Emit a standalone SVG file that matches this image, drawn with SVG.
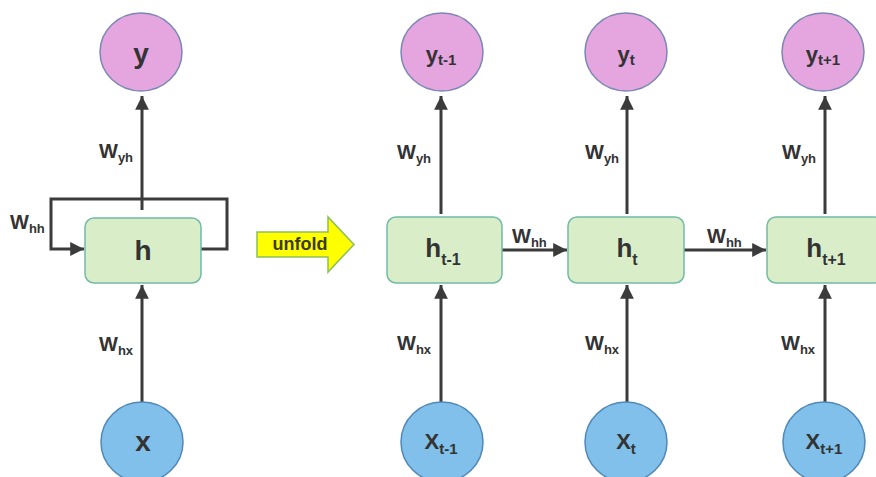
<svg xmlns="http://www.w3.org/2000/svg" width="876" height="477" viewBox="0 0 876 477">
<style>
.out{fill:#e5a5df;stroke:#7b88b6;stroke-width:1.5}
.in{fill:#80c0ea;stroke:#5088b8;stroke-width:1.5}
.box{fill:#d9eec8;stroke:#72bba6;stroke-width:1.5}
.ln{fill:none;stroke:#3b3b3b;stroke-width:3}
text{font-family:"Liberation Sans",Arial,sans-serif;font-weight:bold;fill:#333}
.w{font-size:20px}
.ws{font-size:13px}
.big{font-size:28px}
.m{font-size:22px}
.ms{font-size:15px}
.hm{font-size:26px}
.hs{font-size:16px}
</style>
<defs>
<marker id="ah" viewBox="0 0 10 10" refX="10" refY="5" markerWidth="5" markerHeight="4.6" orient="auto" markerUnits="strokeWidth">
<path d="M0,0 L10,5 L0,10 z" fill="#3b3b3b"/>
</marker>
</defs>
<rect width="876" height="477" fill="#ffffff"/>
<g id="connectors">
<line class="ln" x1="142" y1="210" x2="142" y2="96" marker-end="url(#ah)"/>
<line class="ln" x1="142" y1="402" x2="142" y2="285" marker-end="url(#ah)"/>
<polyline class="ln" points="201,249 227,249 227,199 51,199 51,249 84,249" marker-end="url(#ah)"/>
<line class="ln" x1="441" y1="214" x2="441" y2="96" marker-end="url(#ah)"/>
<line class="ln" x1="441" y1="402" x2="441" y2="285" marker-end="url(#ah)"/>
<line class="ln" x1="627" y1="214" x2="627" y2="96" marker-end="url(#ah)"/>
<line class="ln" x1="627" y1="402" x2="627" y2="285" marker-end="url(#ah)"/>
<line class="ln" x1="825" y1="214" x2="825" y2="96" marker-end="url(#ah)"/>
<line class="ln" x1="825" y1="402" x2="825" y2="285" marker-end="url(#ah)"/>
<line class="ln" x1="502" y1="250" x2="567" y2="250" marker-end="url(#ah)"/>
<line class="ln" x1="684" y1="250" x2="766" y2="250" marker-end="url(#ah)"/>
<text x="99" y="158"><tspan class="w">W</tspan><tspan class="ws" dy="4">yh</tspan></text>
<text x="10" y="229"><tspan class="w">W</tspan><tspan class="ws" dy="4">hh</tspan></text>
<text x="99" y="351"><tspan class="w">W</tspan><tspan class="ws" dy="4">hx</tspan></text>
<text x="397" y="159"><tspan class="w">W</tspan><tspan class="ws" dy="4">yh</tspan></text>
<text x="585" y="159"><tspan class="w">W</tspan><tspan class="ws" dy="4">yh</tspan></text>
<text x="782" y="159"><tspan class="w">W</tspan><tspan class="ws" dy="4">yh</tspan></text>
<text x="397" y="350"><tspan class="w">W</tspan><tspan class="ws" dy="4">hx</tspan></text>
<text x="585" y="350"><tspan class="w">W</tspan><tspan class="ws" dy="4">hx</tspan></text>
<text x="781" y="350"><tspan class="w">W</tspan><tspan class="ws" dy="4">hx</tspan></text>
<text x="512" y="243"><tspan class="w">W</tspan><tspan class="ws" dy="4">hh</tspan></text>
<text x="707" y="243"><tspan class="w">W</tspan><tspan class="ws" dy="4">hh</tspan></text>
</g>
<g id="unfold">
<polygon points="257,232 328,232 328,217 354,244.5 328,272 328,257 257,257" fill="#ffff00" stroke="#8dbf5c" stroke-width="1.5"/>
<text x="300" y="250" text-anchor="middle" font-size="18" style="fill:#3b3b1f">unfold</text>
</g>
<g id="node-y">
<ellipse class="out" cx="141" cy="52" rx="41" ry="39"/>
<text class="big" x="141" y="63" text-anchor="middle">y</text>
</g>
<g id="node-h">
<rect class="box" x="85" y="218" width="116" height="65" rx="9"/>
<text class="big" x="143" y="260" text-anchor="middle">h</text>
</g>
<g id="node-x">
<ellipse class="in" cx="142" cy="442" rx="41" ry="40"/>
<text class="big" x="143" y="451" text-anchor="middle">x</text>
</g>
<g id="node-y-t-1">
<ellipse class="out" cx="442" cy="52" rx="41" ry="39"/>
<text x="441" y="62" text-anchor="middle"><tspan class="m">y</tspan><tspan class="ms" dy="3">t-1</tspan></text>
</g>
<g id="node-y-t">
<ellipse class="out" cx="626" cy="52" rx="41" ry="39"/>
<text x="626" y="62" text-anchor="middle"><tspan class="m">y</tspan><tspan class="ms" dy="3">t</tspan></text>
</g>
<g id="node-y-t1">
<ellipse class="out" cx="823" cy="52" rx="41" ry="39"/>
<text x="823" y="62" text-anchor="middle"><tspan class="m">y</tspan><tspan class="ms" dy="3">t+1</tspan></text>
</g>
<g id="node-h-t-1">
<rect class="box" x="387" y="217" width="115" height="66" rx="9"/>
<text x="443" y="257" text-anchor="middle"><tspan class="hm">h</tspan><tspan class="hs" dy="8">t-1</tspan></text>
</g>
<g id="node-h-t">
<rect class="box" x="568" y="217" width="116" height="66" rx="9"/>
<text x="627" y="257" text-anchor="middle"><tspan class="hm">h</tspan><tspan class="hs" dy="8">t</tspan></text>
</g>
<g id="node-h-t1">
<rect class="box" x="767" y="217" width="116" height="66" rx="9"/>
<text x="826" y="257" text-anchor="middle"><tspan class="hm">h</tspan><tspan class="hs" dy="8">t+1</tspan></text>
</g>
<g id="node-x-t-1">
<ellipse class="in" cx="442" cy="442" rx="41" ry="40"/>
<text x="441" y="449" text-anchor="middle"><tspan class="m">X</tspan><tspan class="ms" dy="5">t-1</tspan></text>
</g>
<g id="node-x-t">
<ellipse class="in" cx="626" cy="442" rx="41" ry="40"/>
<text x="626" y="449" text-anchor="middle"><tspan class="m">X</tspan><tspan class="ms" dy="5">t</tspan></text>
</g>
<g id="node-x-t1">
<ellipse class="in" cx="824" cy="442" rx="41" ry="40"/>
<text x="824" y="449" text-anchor="middle"><tspan class="m">X</tspan><tspan class="ms" dy="5">t+1</tspan></text>
</g>
</svg>
